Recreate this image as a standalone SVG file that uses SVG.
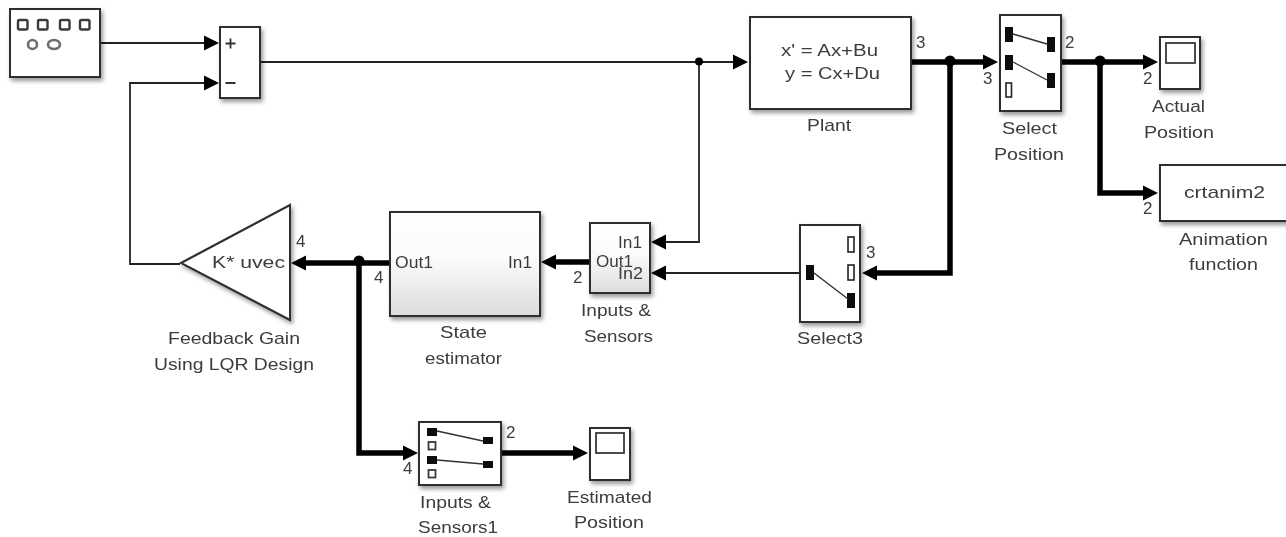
<svg xmlns="http://www.w3.org/2000/svg" width="1286" height="537" viewBox="0 0 1286 537">
<style>
text{font-family:"Liberation Sans",Arial,sans-serif;font-size:17px;fill:#3c3c3c}
.b{fill:#fff;stroke:#2e2e2e;stroke-width:2;filter:url(#sh)}
.g{fill:url(#gr);stroke:#2e2e2e;stroke-width:2;filter:url(#sh)}
.in{fill:#fff;stroke:#3a3a3a;stroke-width:1.8}
.sq{fill:#fff;stroke:#3a3a3a;stroke-width:2.4}
.c{fill:#fff;stroke:#6e6e6e;stroke-width:2.6}
.p{fill:#111;stroke:none}
.po{fill:#fff;stroke:#222;stroke-width:1.6}
.w{fill:none;stroke:#333;stroke-width:1.4}
.t{fill:none;stroke:#222;stroke-width:1.8}
.T{fill:none;stroke:#000;stroke-width:5.500}
.a{fill:#000;stroke:none}
</style>
<defs>
<filter id="sh" x="-20%" y="-20%" width="150%" height="150%"><feDropShadow dx="2" dy="3" stdDeviation="2" flood-color="#000" flood-opacity="0.4"/></filter>
<filter id="soft" x="0" y="0" width="100%" height="100%" filterUnits="userSpaceOnUse" primitiveUnits="userSpaceOnUse"><feGaussianBlur stdDeviation="0.45"/></filter>
<linearGradient id="gr" x1="0" y1="0" x2="0" y2="1"><stop offset="0" stop-color="#fff"/><stop offset="0.45" stop-color="#fbfbfb"/><stop offset="1" stop-color="#dcdcdc"/></linearGradient>
<path id="ar" d="M-15,-7.500 L0,0 L-15,7.500 Z"/>
<path id="al" d="M15,-7.500 L0,0 L15,7.500 Z"/>
</defs>

<g filter="url(#soft)">
<g id="connectors">
<path class="t" d="M100,43H208"/>
<path class="t" d="M180,264H130V83H208"/>
<path class="t" d="M260,62H738"/>
<path class="t" d="M699,62V242H662"/>
<path class="t" d="M799,273H662"/>
<path class="T" d="M911,62H988"/>
<path class="T" d="M950,62V273H872"/>
<path class="T" d="M1061,62H1148"/>
<path class="T" d="M1100,62V193H1148"/>
<path class="T" d="M590,262H551"/>
<path class="T" d="M390,263H301"/>
<path class="T" d="M359,263V453H408"/>
<path class="T" d="M501,453H578"/>
<use href="#ar" class="a" x="219" y="43"/>
<use href="#ar" class="a" x="219" y="83"/>
<use href="#ar" class="a" x="748" y="62"/>
<use href="#al" class="a" x="651" y="242"/>
<use href="#al" class="a" x="651" y="273"/>
<use href="#ar" class="a" x="998" y="62"/>
<use href="#al" class="a" x="862" y="273"/>
<use href="#ar" class="a" x="1158" y="62"/>
<use href="#ar" class="a" x="1158" y="193"/>
<use href="#al" class="a" x="541" y="262"/>
<use href="#al" class="a" x="291" y="263"/>
<use href="#ar" class="a" x="418" y="453"/>
<use href="#ar" class="a" x="588" y="453"/>
<circle class="a" cx="699" cy="61.500" r="4"/>
<circle class="a" cx="950" cy="61" r="5.500"/>
<circle class="a" cx="1100" cy="61" r="5.500"/>
<circle class="a" cx="359" cy="261" r="5.500"/>
</g>

<g id="signal-builder">
<rect class="b" x="10" y="9" width="90" height="68"/>
<rect class="sq" x="18" y="20" width="9.500" height="9.500" rx="1.500"/>
<rect class="sq" x="38" y="20" width="9.500" height="9.500" rx="1.500"/>
<rect class="sq" x="60" y="20" width="9.500" height="9.500" rx="1.500"/>
<rect class="sq" x="80" y="20" width="9.500" height="9.500" rx="1.500"/>
<ellipse class="c" cx="32.500" cy="44.500" rx="4.500" ry="4.500"/>
<ellipse class="c" cx="54" cy="44.500" rx="6" ry="4.500"/>
</g>

<g id="sum">
<rect class="b" x="220" y="27" width="40" height="71"/>
<path d="M225.500,43.500h10M230.500,38.500v10M225.500,83h10" fill="none" stroke="#333" stroke-width="1.800"/>
</g>

<g id="plant">
<rect class="b" x="750" y="17" width="161" height="92"/>
<text x="781" y="56" textLength="97" lengthAdjust="spacingAndGlyphs">x' = Ax+Bu</text>
<text x="785" y="79" textLength="95" lengthAdjust="spacingAndGlyphs">y = Cx+Du</text>
<text x="807" y="131" textLength="44" lengthAdjust="spacingAndGlyphs">Plant</text>
<text x="916" y="48">3</text>
</g>

<g id="select-position">
<rect class="b" x="1000" y="15" width="61" height="96"/>
<rect class="p" x="1005" y="27" width="8" height="15"/>
<rect class="p" x="1047" y="37" width="8" height="15"/>
<rect class="p" x="1005" y="55" width="8" height="15"/>
<rect class="p" x="1047" y="73" width="8" height="15"/>
<rect class="po" x="1006" y="83" width="5.500" height="14"/>
<path class="w" d="M1013,34L1047,44M1013,62L1047,80"/>
<text x="1002" y="134" textLength="55" lengthAdjust="spacingAndGlyphs">Select</text>
<text x="994" y="160" textLength="70" lengthAdjust="spacingAndGlyphs">Position</text>
<text x="1065" y="48">2</text>
<text x="983" y="84">3</text>
</g>

<g id="actual-position">
<rect class="b" x="1160" y="37" width="40" height="52"/>
<rect class="in" x="1166" y="43" width="29" height="20"/>
<text x="1152" y="112" textLength="53" lengthAdjust="spacingAndGlyphs">Actual</text>
<text x="1144" y="138" textLength="70" lengthAdjust="spacingAndGlyphs">Position</text>
<text x="1143" y="84">2</text>
</g>

<g id="animation-function">
<rect class="b" x="1160" y="165" width="128" height="56"/>
<text x="1184" y="198" textLength="81" lengthAdjust="spacingAndGlyphs">crtanim2</text>
<text x="1179" y="245" textLength="89" lengthAdjust="spacingAndGlyphs">Animation</text>
<text x="1189" y="270" textLength="69" lengthAdjust="spacingAndGlyphs">function</text>
<text x="1143" y="214">2</text>
</g>

<g id="select3">
<rect class="b" x="800" y="225" width="60" height="97"/>
<rect class="po" x="848" y="237" width="6" height="15"/>
<rect class="po" x="848" y="265" width="6" height="15"/>
<rect class="p" x="806" y="265" width="8" height="15"/>
<rect class="p" x="847" y="293" width="8" height="15"/>
<path class="w" d="M814,273L848,299"/>
<text x="797" y="344" textLength="66" lengthAdjust="spacingAndGlyphs">Select3</text>
<text x="866" y="258">3</text>
</g>

<g id="inputs-sensors">
<rect class="g" x="590" y="223" width="60" height="70"/>
<text x="618" y="248" textLength="24" lengthAdjust="spacingAndGlyphs">In1</text>
<text x="618" y="279" textLength="25" lengthAdjust="spacingAndGlyphs">In2</text>
<text x="596" y="267" textLength="37" lengthAdjust="spacingAndGlyphs">Out1</text>
<text x="581" y="316" textLength="70" lengthAdjust="spacingAndGlyphs">Inputs &amp;</text>
<text x="584" y="342" textLength="69" lengthAdjust="spacingAndGlyphs">Sensors</text>
<text x="573" y="283">2</text>
</g>

<g id="state-estimator">
<rect class="g" x="390" y="212" width="150" height="104"/>
<text x="395" y="268" textLength="38" lengthAdjust="spacingAndGlyphs">Out1</text>
<text x="508" y="268" textLength="24" lengthAdjust="spacingAndGlyphs">In1</text>
<text x="440" y="338" textLength="47" lengthAdjust="spacingAndGlyphs">State</text>
<text x="425" y="364" textLength="77" lengthAdjust="spacingAndGlyphs">estimator</text>
<text x="374" y="283">4</text>
</g>

<g id="feedback-gain">
<path class="b" d="M181,263L290,205V320Z"/>
<text x="212" y="268" textLength="73" lengthAdjust="spacingAndGlyphs">K* uvec</text>
<text x="296" y="247">4</text>
<text x="168" y="344" textLength="132" lengthAdjust="spacingAndGlyphs">Feedback Gain</text>
<text x="154" y="370" textLength="160" lengthAdjust="spacingAndGlyphs">Using LQR Design</text>
</g>

<g id="inputs-sensors1">
<rect class="b" x="419" y="422" width="82" height="63"/>
<rect class="p" x="427" y="428" width="10" height="8"/>
<rect class="in" x="428.500" y="442" width="7" height="7.500"/>
<rect class="p" x="427" y="456" width="10" height="8"/>
<rect class="in" x="428.500" y="470" width="7" height="7.500"/>
<rect class="p" x="483" y="437" width="10" height="7"/>
<rect class="p" x="483" y="461" width="10" height="7"/>
<path class="w" d="M437,431L483,441M437,460L483,464"/>
<text x="420" y="508" textLength="71" lengthAdjust="spacingAndGlyphs">Inputs &amp;</text>
<text x="418" y="533" textLength="80" lengthAdjust="spacingAndGlyphs">Sensors1</text>
<text x="506" y="438">2</text>
<text x="403" y="474">4</text>
</g>

<g id="estimated-position">
<rect class="b" x="590" y="428" width="40" height="52"/>
<rect class="in" x="596" y="433" width="28" height="20"/>
<text x="567" y="503" textLength="85" lengthAdjust="spacingAndGlyphs">Estimated</text>
<text x="574" y="528" textLength="70" lengthAdjust="spacingAndGlyphs">Position</text>
</g>
</g>
</svg>
